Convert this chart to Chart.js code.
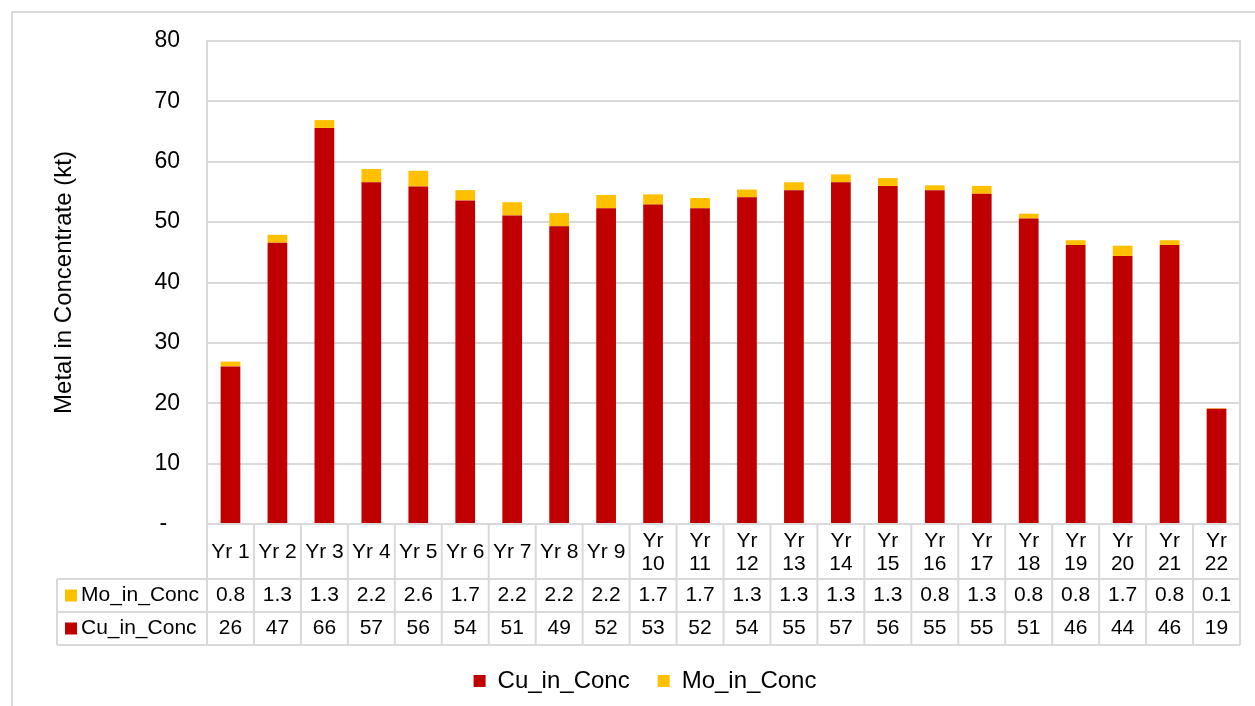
<!DOCTYPE html>
<html>
<head>
<meta charset="utf-8">
<script src="https://cdn.jsdelivr.net/npm/chart.js@4.4.0/dist/chart.umd.min.js"></script>
<style>
  html, body { margin: 0; padding: 0; background: #fff; }
  #wrap { position: relative; width: 1255px; height: 706px; overflow: hidden; }
  #frame { position: absolute; left: 11px; top: 11px; width: 1300px; height: 800px; border: 2px solid #d9d9d9; box-sizing: border-box; }
  #chart { position: absolute; left: 0; top: 0; }
</style>
</head>
<body>
<div id="wrap">
  <div id="frame"></div>
  <canvas id="chart" width="1255" height="706"></canvas>
</div>
<script>
// data
const years = ['Yr 1', 'Yr 2', 'Yr 3', 'Yr 4', 'Yr 5', 'Yr 6', 'Yr 7', 'Yr 8', 'Yr 9', 'Yr 10', 'Yr 11',
  'Yr 12', 'Yr 13', 'Yr 14', 'Yr 15', 'Yr 16', 'Yr 17', 'Yr 18', 'Yr 19', 'Yr 20', 'Yr 21', 'Yr 22'];
const cuInConc = [26.1, 46.6, 65.6, 56.6, 55.9, 53.6, 51.1, 49.3, 52.3, 52.9, 52.3,
  54.1, 55.3, 56.6, 56.0, 55.3, 54.7, 50.6, 46.2, 44.4, 46.2, 19.1];
const moInConc = [0.8, 1.3, 1.3, 2.2, 2.6, 1.7, 2.2, 2.2, 2.2, 1.7, 1.7,
  1.3, 1.3, 1.3, 1.3, 0.8, 1.3, 0.8, 0.8, 1.7, 0.8, 0.1];
const yTicks = [0, 10, 20, 30, 40, 50, 60, 70, 80];

const RED = '#c00000';
const GOLD = '#ffc000';
const LINE = '#d9d9d9';
const FONT = '"Liberation Sans", Arial, sans-serif';

Chart.defaults.color = '#000';
Chart.defaults.font.family = FONT;

// data table under the plot (Excel style)
const dataTable = {
  id: 'dataTable',
  afterDraw(chart) {
    const { ctx, chartArea: a, scales: { x } } = chart;
    const n = years.length;
    const colW = (a.right - a.left) / n;
    const catBottom = a.bottom + 55;
    const moBottom = catBottom + 33;
    const cuBottom = moBottom + 33;
    const labelLeft = 57;

    ctx.save();
    ctx.strokeStyle = LINE;
    ctx.lineWidth = 2;

    // plot frame
    ctx.strokeRect(a.left, a.top, a.right - a.left, a.bottom - a.top);

    ctx.beginPath();
    for (let i = 0; i <= n; i++) {
      const px = a.left + i * colW;
      ctx.moveTo(px, a.bottom);
      ctx.lineTo(px, cuBottom);
    }
    ctx.moveTo(labelLeft, catBottom);
    ctx.lineTo(labelLeft, cuBottom);
    [catBottom, moBottom, cuBottom].forEach(yy => {
      ctx.moveTo(labelLeft, yy);
      ctx.lineTo(a.right, yy);
    });
    ctx.stroke();

    ctx.fillStyle = '#000';
    ctx.font = '21px ' + FONT;
    ctx.textAlign = 'center';
    ctx.textBaseline = 'middle';

    years.forEach((yr, i) => {
      const cx = x.getPixelForValue(i);
      const midCat = (a.bottom + catBottom) / 2 + 1;
      if (ctx.measureText(yr).width > colW - 6) {
        const parts = yr.split(' ');
        ctx.fillText(parts[0], cx, midCat - 11);
        ctx.fillText(parts[1], cx, midCat + 12);
      } else {
        ctx.fillText(yr, cx, midCat);
      }
      ctx.fillText(moInConc[i].toFixed(1), cx, (catBottom + moBottom) / 2);
      ctx.fillText(cuInConc[i].toFixed(0), cx, (moBottom + cuBottom) / 2);
    });

    // row headers with legend keys
    const rows = [
      { label: 'Mo_in_Conc', color: GOLD, top: catBottom, bottom: moBottom },
      { label: 'Cu_in_Conc', color: RED, top: moBottom, bottom: cuBottom }
    ];
    ctx.textAlign = 'left';
    rows.forEach(r => {
      const my = (r.top + r.bottom) / 2;
      ctx.fillStyle = r.color;
      ctx.fillRect(labelLeft + 8, my - 6, 12, 12);
      ctx.fillStyle = '#000';
      ctx.fillText(r.label, labelLeft + 24, my);
    });
    ctx.restore();
  }
};

new Chart(document.getElementById('chart'), {
  type: 'bar',
  data: {
    labels: years,
    datasets: [
      { label: 'Cu_in_Conc', data: cuInConc, backgroundColor: RED },
      { label: 'Mo_in_Conc', data: moInConc, backgroundColor: GOLD }
    ]
  },
  options: {
    responsive: false,
    animation: false,
    devicePixelRatio: 1,
    layout: { padding: { top: 41, right: 15, left: 50, bottom: 3 } },
    barPercentage: 0.42,
    categoryPercentage: 1,
    plugins: {
      tooltip: { enabled: false },
      legend: {
        position: 'bottom',
        labels: {
          boxWidth: 12,
          boxHeight: 12,
          padding: 28,
          font: { size: 24 }
        }
      }
    },
    scales: {
      x: {
        stacked: true,
        grid: { display: false },
        border: { display: false },
        ticks: { display: false },
        afterFit(s) {
          const legendH = s.chart.legend ? s.chart.legend.height : 0;
          s.height = s.chart.height - 3 - legendH - 524;
        }
      },
      y: {
        stacked: true,
        min: 0,
        max: 80,
        afterBuildTicks(s) {
          s.ticks = yTicks.map(v => ({ value: v }));
        },
        afterFit(s) { s.width = 157; },
        grid: { color: LINE, lineWidth: 2, drawTicks: false },
        border: { display: false },
        ticks: {
          padding: 27,
          font: { size: 23 },
          callback: v => (v === 0 ? '-  ' : v)
        },
        title: {
          display: true,
          text: 'Metal in Concentrate (kt)',
          font: { size: 24 },
          padding: { top: 0, bottom: 0 }
        }
      }
    }
  },
  plugins: [dataTable]
});
</script>
</body>
</html>
